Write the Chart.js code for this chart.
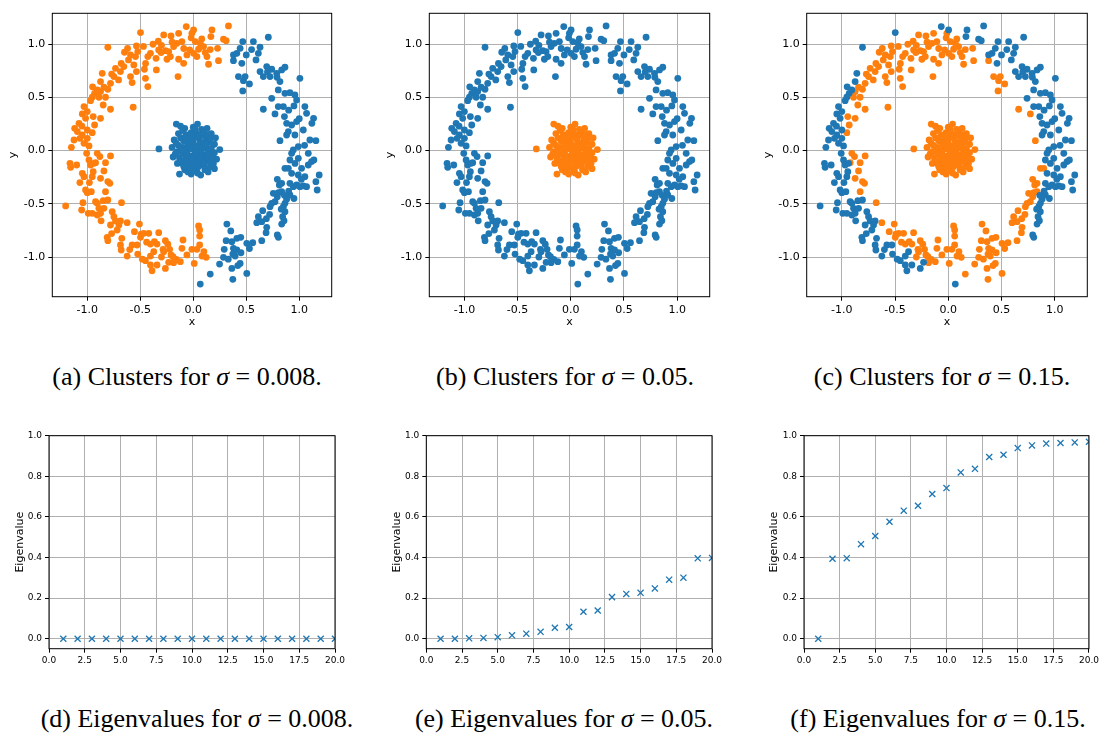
<!DOCTYPE html>
<html>
<head>
<meta charset="utf-8">
<script src="https://cdn.jsdelivr.net/npm/chart.js@4"></script>
<style>
body { margin: 0; background: #fff; }
#fig { position: relative; width: 1102px; height: 734px; overflow: hidden; background: #fff; }
#fig canvas { position: absolute; }
.cap { position: absolute; width: 420px; margin-left: -210px; height: 30px; line-height: 30px;
       text-align: center; white-space: nowrap; color: #000;
       font-family: "Liberation Serif", "Times New Roman", serif; font-size: 26px; }
</style>
</head>
<body>
<div id="fig"></div>
<script>
const BLUE = '#1f77b4';
const ORANGE = '#ff7f0e';

// small blob around the origin
const center = [
  [-0.324,0.016],
  [-0.16,0.25],[-0.12,0.23],[0.04,0.25],[0.13,0.21],[0.21,0.12],[0.25,0.01],[0.22,-0.08],[0.2,-0.17],
  [0.14,-0.2],[0.07,-0.23],[-0.02,-0.22],[-0.13,-0.22],[-0.08,-0.18],[-0.15,-0.12],[-0.19,-0.06],
  [-0.2,0.03],[-0.18,0.1],[-0.14,0.16],[-0.08,0.21],[0.0,0.22],[0.08,0.2],[0.17,0.16],[0.2,0.06],
  [0.19,-0.12],[0.11,-0.18],[0.03,-0.19],[-0.05,-0.2],
  [-0.12,0.12],[-0.07,0.15],[-0.02,0.17],[0.03,0.16],[0.08,0.15],[0.12,0.12],[0.15,0.08],[0.17,0.02],
  [0.16,-0.04],[0.14,-0.1],[0.1,-0.14],[0.05,-0.15],[0.0,-0.15],[-0.05,-0.14],[-0.1,-0.12],[-0.13,-0.07],
  [-0.15,-0.01],[-0.14,0.05],[-0.09,0.09],[-0.04,0.11],[0.01,0.12],[0.06,0.1],[0.1,0.07],[0.12,0.02],
  [0.11,-0.04],[0.08,-0.09],[0.03,-0.1],[-0.02,-0.1],[-0.07,-0.08],[-0.1,-0.03],[-0.1,0.03],
  [-0.05,0.06],[0.0,0.07],[0.05,0.05],[0.07,0.0],[0.05,-0.05],[0.0,-0.05],[-0.05,-0.04],[-0.06,0.01],
  [0.0,0.01],[0.03,0.03],[0.02,-0.02],[-0.03,0.02],[0.09,0.04],[-0.07,0.12],[0.13,-0.06],[-0.11,-0.1],
  [0.06,-0.12],[0.16,0.11],[-0.16,0.07],[0.18,-0.07],[-0.03,-0.17],[0.1,0.17],[-0.1,0.19],[0.02,0.2],
  [0.14,0.15],[0.2,-0.02],[-0.17,-0.03],[0.04,-0.21],[-0.09,-0.15],[0.16,-0.15],[0.12,0.05],[-0.02,0.14],
  [0.07,-0.06],[-0.12,0.0],[0.04,0.13],[0.1,-0.11],[-0.06,-0.11],[0.15,-0.01],[-0.01,-0.08]
];

// ring points, split by the cluster they get for sigma = 0.008 and sigma = 0.15
// ringA: orange / orange
const ringA = [
  [-0.279,1.088],[-0.21,1.078],[-0.138,1.103],[-0.107,1.025],[-0.154,1.009],[-0.185,0.978],[-0.232,0.931],
  [-0.263,0.94],[-0.326,0.947],[-0.304,0.922],[-0.216,0.884],[-0.248,0.859],[-0.348,0.759],[-0.138,0.859],
  [-0.06,0.9],[-0.034,0.947],[-0.091,0.821],[-0.144,0.696],[-0.404,0.915],[-0.429,0.884],[-0.351,0.868],
  [-0.536,0.984],[-0.524,0.931],[-0.545,0.884],[-0.592,0.9],[-0.649,0.925],[-0.611,0.853],[-0.561,0.806],
  [-0.536,0.743],[-0.592,0.696],[-0.577,0.64],[-0.655,0.79],[-0.687,0.743],[-0.734,0.774],[-0.749,0.696],
  [-0.705,0.665],[-0.781,0.633],[-0.806,0.577],[-0.843,0.596],[-0.875,0.555],[-0.89,0.502],[-0.828,0.502],
  [-0.451,0.68],[-0.429,0.602],[-0.461,0.765],[-0.567,0.408],[-0.781,0.389],[-0.85,0.429],[-0.875,0.304],
  [-0.944,0.32],[-0.931,0.241],[-0.953,0.169],[-0.906,-0.025],[-0.781,-0.05],
  [-0.62,0.96],[-0.47,0.98],[-0.38,1.0],[-0.3,0.99],[-0.45,0.82],[-0.68,0.82],[-0.77,0.72],
  [-0.02,1.06],[0.08,1.05],[0.16,0.95],[-0.09,0.96],[-0.2,1.02],[-0.33,1.03],
  [-0.013,1.103],[0.019,1.025],[0.066,1.009],[0.05,0.953],[0.097,0.978],[0.003,0.915],[0.034,0.884],
  [0.113,0.922],[0.129,0.884],[0.144,0.812],[0.229,0.962],[0.238,0.846],
  [-0.881,-0.056],[-0.922,-0.113],[-0.828,-0.113],[-0.843,-0.191],[-0.875,-0.26],[-0.806,-0.291],
  [-0.787,-0.307],[-0.828,-0.386],[-0.677,-0.489],[-0.624,-0.677],[-0.555,-0.762],[-0.508,-0.69],
  [-0.492,-0.784],[-0.467,-0.777],[-0.498,-0.815],[-0.42,-0.777],[-0.404,-0.878],[-0.367,-0.856],
  [-0.326,-0.771],[-0.263,-0.846],[-0.342,-0.878],[-0.285,-0.928],[-0.279,-0.95],[-0.223,-0.928],
  [-0.21,-0.981],[-0.191,-0.997],[-0.16,-1.022],[-0.185,-1.053],[-0.122,-1.044],[-0.097,-0.84],
  [-0.107,-0.918],[-0.013,-0.928],[0.009,-1.06],
  [-0.3,-1.0],[-0.24,-0.88],[-0.06,-0.98],[0.1,-0.95],[-0.44,-0.86],
  [0.05,-0.708],[0.06,-0.746],[0.06,-0.803],[0.06,-0.887],[0.034,-0.928],[0.082,-0.991],[0.122,-1.003]
];
// ringB: orange / blue
const ringB = [
  [-0.498,1.11],[-0.806,0.972],[-0.859,0.727],[-0.875,0.649],[-0.906,0.571],[-0.931,0.539],[-0.953,0.502],
  [-0.969,0.47],[-1.031,0.414],[-1.047,0.345],[-1.0,0.367],[-1.016,0.304],[-1.078,0.257],[-1.119,0.21],
  [-1.094,0.179],[-1.047,0.147],[-1.069,0.116],[-1.125,0.1],[-1.15,0.031],[-1.0,0.194],[-1.0,0.116],
  [-0.984,0.044],[-1.031,0.069],[-0.066,1.166],[0.003,1.135],[-1.05,0.23],[-0.95,0.6],
  [0.176,1.135],[0.332,1.172],[0.166,1.072],[0.285,1.047],[0.31,1.034],
  [-1.006,-0.025],[-1.163,-0.119],[-1.157,-0.157],[-1.1,-0.135],[-1.047,-0.213],[-1.031,-0.245],
  [-0.984,-0.088],[-0.969,-0.135],[-0.944,-0.198],[-0.953,-0.245],[-0.937,-0.119],[-1.016,-0.37],
  [-1.0,-0.395],[-0.962,-0.386],[-1.041,-0.489],[-1.204,-0.52],[-1.053,-0.558],[-0.991,-0.589],
  [-0.922,-0.48],[-0.906,-0.495],[-0.85,-0.47],[-0.806,-0.464],[-0.89,-0.542],[-0.875,-0.589],
  [-0.843,-0.542],[-0.906,-0.605],[-0.953,-0.589],[-0.765,-0.574],[-0.749,-0.621],[-0.734,-0.661],
  [-0.702,-0.699],[-0.781,-0.699],[-0.718,-0.746],[-0.687,-0.661],[-0.812,-0.815],[-0.806,-0.846],
  [-0.674,-0.824],[-0.687,-0.887],[-0.68,-0.934],[-0.577,-0.887],[-0.624,-0.991],[-0.53,-0.887],
  [-0.524,-0.972],[-0.451,-1.034],[-0.404,-1.075],[-0.389,-1.129],[-0.342,-1.075],[-0.263,-1.107],
  [-0.404,-0.991],[-0.373,-0.95],[-0.232,-1.05],
  [-1.07,-0.3],[-0.98,-0.3],[-0.87,-0.66],[-0.77,-0.78],[-0.6,-0.93],[-0.48,-1.02]
];
// ringC: blue / orange
const ringC = [
  [0.379,0.846],[0.426,0.696],[0.473,0.658],[0.489,0.696],[0.53,0.627],[0.467,0.561],[0.661,0.389],
  [0.771,0.345],[0.818,0.094],
  [0.16,-1.16],[0.248,-1.066],[0.285,-1.003],[0.292,-0.928],[0.31,-0.846],[0.317,-0.69],[0.354,-0.755],
  [0.364,-0.856],[0.379,-0.918],[0.373,-0.972],[0.411,-0.934],[0.395,-0.991],[0.442,-1.06],[0.364,-1.107],
  [0.373,-1.21],[0.411,-0.824],[0.448,-0.815],[0.505,-1.154],[0.561,-0.865],[0.505,-0.871],[0.646,-0.846],
  [0.687,-0.771],[0.693,-0.721],[0.646,-0.668],[0.614,-0.621],[0.599,-0.677],[0.655,-0.564],[0.724,-0.527],
  [0.74,-0.495],[0.771,-0.48],[0.793,-0.433],[0.803,-0.395],[0.834,-0.386],[0.755,-0.401],[0.812,-0.323],
  [0.834,-0.307],[0.793,-0.27],[0.865,-0.166],[0.897,-0.166],
  [0.72,-0.6],[0.69,-0.64],[0.53,-0.92],[0.45,-0.96],[0.33,-1.02],[0.42,-1.08]
];
// ringD: blue / blue
const ringD = [
  [0.379,0.9],[0.411,0.915],[0.442,0.962],[0.467,1.025],[0.458,0.821],[0.567,1.025],[0.63,0.972],
  [0.614,0.915],[0.708,1.066],[0.592,0.853],[0.63,0.743],[0.661,0.696],[0.693,0.79],[0.74,0.765],
  [0.724,0.696],[0.787,0.727],[0.834,0.759],[0.865,0.784],[0.818,0.649],[0.802,0.571],[0.74,0.492],
  [0.865,0.539],[0.912,0.545],[0.959,0.524],[1.006,0.68],[0.85,0.414],[0.802,0.414],[0.975,0.476],
  [1.053,0.414],[1.069,0.351],[1.135,0.304],[1.119,0.257],[0.881,0.257],[0.928,0.241],[0.975,0.273],
  [0.897,0.179],[0.959,0.147],[1.038,0.194],[1.1,0.1],[1.157,0.094],[0.991,0.038],[1.085,-0.025],
  [0.944,0.006],[0.881,0.147],
  [0.9,0.38],[0.95,0.42],[1.0,0.3],[0.86,0.32],[1.05,0.05],[0.79,0.69],[0.7,0.74],[0.55,0.95],[0.5,0.9],
  [0.066,-1.254],[0.793,-0.793],[0.803,-0.815],[0.834,-0.69],[0.856,-0.658],[0.843,-0.621],[0.865,-0.574],
  [0.85,-0.527],[0.865,-0.495],[0.881,-0.458],[0.912,-0.417],[0.944,-0.339],[0.975,-0.323],[0.912,-0.307],
  [1.006,-0.339],[1.038,-0.332],[1.069,-0.339],[1.053,-0.245],[0.991,-0.229],[0.928,-0.213],[1.022,-0.166],
  [1.085,-0.135],[1.116,-0.103],[1.138,-0.088],[0.928,-0.025],[0.991,-0.072],[1.157,-0.292],[1.169,-0.37],
  [1.188,-0.229],[0.912,-0.088],
  [0.96,-0.12],[1.02,-0.27],[0.9,-0.38],[0.86,-0.42],[0.95,-0.45],[0.83,-0.55]
];
const ringTicks = [-1.0, -0.5, 0.0, 0.5, 1.0];

// sorted eigenvalues, first 20
const eigIndex = [1, 2, 3, 4, 5, 6, 7, 8, 9, 10, 11, 12, 13, 14, 15, 16, 17, 18, 19, 20];
const eigSmall = [0, 0, 0, 0, 0, 0, 0, 0, 0, 0, 0, 0, 0, 0, 0, 0, 0, 0, 0, 0];
const eigMid = [0, 0, 0.002, 0.004, 0.008, 0.017, 0.025, 0.034, 0.054, 0.058,
                0.133, 0.139, 0.205, 0.221, 0.226, 0.248, 0.291, 0.301, 0.396, 0.398];
const eigLarge = [0, 0.394, 0.397, 0.466, 0.506, 0.576, 0.631, 0.655, 0.713, 0.742,
                  0.819, 0.837, 0.895, 0.906, 0.939, 0.952, 0.961, 0.964, 0.967, 0.970];
const eigXTicks = [0, 2.5, 5, 7.5, 10, 12.5, 15, 17.5, 20];
const eigYTicks = [0, 0.2, 0.4, 0.6, 0.8, 1.0];

const captions = [
  { tag: '(a)', what: 'Clusters', sigma: '0.008' },
  { tag: '(b)', what: 'Clusters', sigma: '0.05' },
  { tag: '(c)', what: 'Clusters', sigma: '0.15' },
  { tag: '(d)', what: 'Eigenvalues', sigma: '0.008' },
  { tag: '(e)', what: 'Eigenvalues', sigma: '0.05' },
  { tag: '(f)', what: 'Eigenvalues', sigma: '0.15' }
];

const fig = document.getElementById('fig');
const SANS = "'DejaVu Sans', sans-serif";

// draws the full box around the axes, like matplotlib spines
const frame = {
  id: 'frame',
  afterDatasetsDraw(chart) {
    const a = chart.chartArea, ctx = chart.ctx;
    ctx.save();
    ctx.strokeStyle = '#000';
    ctx.lineWidth = 1;
    ctx.strokeRect(a.left, a.top, a.right - a.left, a.bottom - a.top);
    ctx.restore();
  }
};

function pts(list) {
  return list.map(p => ({ x: p[0], y: p[1] }));
}

function scale(p) {
  const lh = p.fontSize * 1.2;
  const o = {
    type: 'linear',
    position: p.horizontal ? 'bottom' : 'left',
    min: p.min, max: p.max,
    afterBuildTicks: s => { s.ticks = p.ticks.map(v => ({ value: v })); },
    afterFit: s => { if (p.horizontal) s.height = p.size; else s.width = p.size; },
    ticks: {
      autoSkip: false, maxRotation: 0, padding: 3, color: '#000',
      font: { family: SANS, size: p.tickSize },
      callback: v => v.toFixed(1)
    },
    grid: { color: '#b0b0b0', lineWidth: 1, tickColor: '#000', tickLength: 4, tickWidth: 1 },
    border: { display: false },
    title: { display: false }
  };
  if (p.title) {
    const off = p.titleOffset - lh / 2;
    o.title = {
      display: true, text: p.title, color: '#000',
      font: { family: SANS, size: p.fontSize, lineHeight: 1.2 },
      padding: p.horizontal ? { top: 0, bottom: off } : { top: off, bottom: 0 }
    };
  }
  return o;
}

// g: canvas box (left, top, w, h) and the plot area (x0, y0, x1, y1) in page pixels
function panel(g, datasets, xs, ys) {
  const c = document.createElement('canvas');
  c.width = g.w; c.height = g.h;
  c.style.left = g.left + 'px';
  c.style.top = g.top + 'px';
  c.style.width = g.w + 'px';
  c.style.height = g.h + 'px';
  fig.appendChild(c);

  xs.size = g.top + g.h - g.y1;
  ys.size = g.x0 - g.left;
  if (xs.titleAt) xs.titleOffset = g.top + g.h - xs.titleAt;
  if (ys.titleAt) ys.titleOffset = ys.titleAt - g.left;

  return new Chart(c.getContext('2d'), {
    type: 'scatter',
    data: { datasets: datasets },
    options: {
      responsive: false,
      animation: false,
      events: [],
      layout: { padding: { left: 0, bottom: 0, top: g.y0 - g.top, right: g.left + g.w - g.x1 } },
      plugins: { legend: { display: false }, tooltip: { enabled: false } },
      scales: { x: scale(xs), y: scale(ys) }
    },
    plugins: [frame]
  });
}

function dots(list, color) {
  return { data: pts(list), backgroundColor: color, borderWidth: 0, pointRadius: 3.4, pointHoverRadius: 3.4 };
}

function ringPanel(g, blue, orange) {
  panel(g, [dots(blue, BLUE), dots(orange, ORANGE)],
    { horizontal: true, min: -1.33, max: 1.306, ticks: ringTicks, tickSize: 11, fontSize: 11, title: 'x', titleAt: g.xlab },
    { horizontal: false, min: -1.373, max: 1.291, ticks: ringTicks, tickSize: 11, fontSize: 11, title: 'y', titleAt: g.ylab });
}

function eigPanel(g, values) {
  const ds = {
    data: eigIndex.map((k, i) => ({ x: k, y: values[i] })),
    pointStyle: 'crossRot', pointRadius: 4.3, pointHoverRadius: 4.3,
    borderColor: BLUE, backgroundColor: BLUE, borderWidth: 1.3, clip: 0
  };
  panel(g, [ds],
    { horizontal: true, min: 0, max: 20, ticks: eigXTicks, tickSize: 9, fontSize: 9 },
    { horizontal: false, min: -0.049, max: 1.0, ticks: eigYTicks, tickSize: 9, fontSize: 11, title: 'Eigenvalue', titleAt: g.ylab });
}

// (a) sigma = 0.008: left half of the ring split off
ringPanel({ left: 3, top: 0, w: 342, h: 333, x0: 52.3, y0: 13.3, x1: 331.7, y1: 296.7, xlab: 321.7, ylab: 13.3 },
  ringC.concat(ringD, center), ringA.concat(ringB));
// (b) sigma = 0.05: ring vs. blob
ringPanel({ left: 380, top: 0, w: 342, h: 333, x0: 429.3, y0: 13.3, x1: 709.7, y1: 296.7, xlab: 321.7, ylab: 390.3 },
  ringA.concat(ringB, ringC, ringD), center);
// (c) sigma = 0.15
ringPanel({ left: 757, top: 0, w: 345, h: 333, x0: 806.7, y0: 13.3, x1: 1087.3, y1: 296.7, xlab: 321.7, ylab: 767.7 },
  ringB.concat(ringD), ringA.concat(ringC, center));

eigPanel({ left: 8, top: 425, w: 355, h: 250, x0: 49, y0: 435.7, x1: 335, y1: 648.7, ylab: 20 }, eigSmall);
eigPanel({ left: 385, top: 425, w: 350, h: 250, x0: 426.3, y0: 435.7, x1: 712, y1: 648.7, ylab: 397 }, eigMid);
eigPanel({ left: 762, top: 425, w: 340, h: 250, x0: 804, y0: 435.7, x1: 1090, y1: 648.7, ylab: 774.3 }, eigLarge);

// sub-captions
const capX = [187, 565, 942, 197, 564, 938];
const capY = [377, 377, 377, 719, 719, 719];
captions.forEach((c, i) => {
  const d = document.createElement('div');
  d.className = 'cap';
  d.style.left = capX[i] + 'px';
  d.style.top = (capY[i] - 15) + 'px';
  d.innerHTML = c.tag + ' ' + c.what + ' for <i>σ</i> = ' + c.sigma + '.';
  fig.appendChild(d);
});
</script>
</body>
</html>
